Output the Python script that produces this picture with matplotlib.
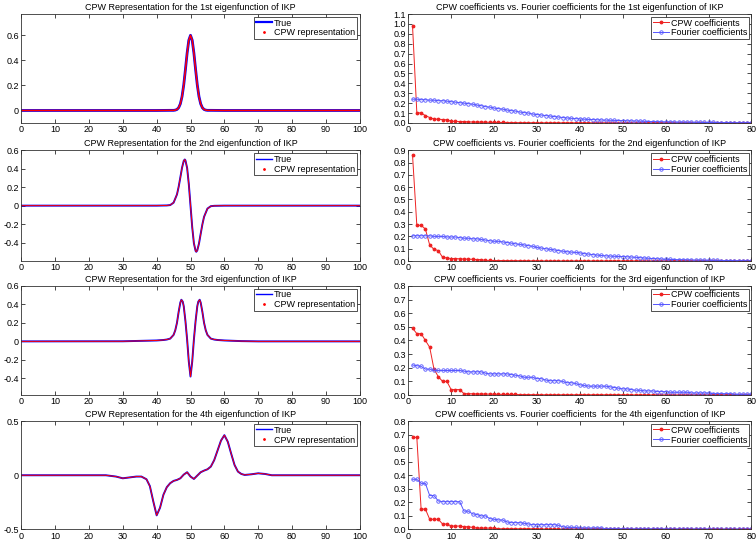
import matplotlib
matplotlib.use('Agg')
import matplotlib.pyplot as plt
from matplotlib.lines import Line2D

plt.rcParams['font.family'] = ['Liberation Sans', 'DejaVu Sans']
plt.rcParams['font.size'] = 6.5

# ---- left column: eigenfunctions ----
eig1_x = [0, 40, 44, 45, 45.5, 46, 46.5, 47, 47.5, 48, 48.5, 49, 49.5, 50,
          50.5, 51, 51.5, 52, 52.5, 53, 53.5, 54, 54.5, 55, 56, 60, 100]
eig1_y = [0, 0, 0.001, 0.001, 0.003, 0.008, 0.022, 0.053, 0.111, 0.204, 0.327, 0.458, 0.561, 0.6,
          0.561, 0.458, 0.327, 0.204, 0.111, 0.053, 0.022, 0.008, 0.003, 0.001, 0.001, 0, 0]

eig2_x = [0, 40, 43, 44, 45, 46, 46.5, 47, 47.5, 48, 48.3, 48.5, 49, 49.5, 50,
          50.5, 51, 51.5, 51.7, 52, 52.5, 53, 53.5, 54, 55, 56, 57, 60, 100]
eig2_y = [0, 0, 0.002, 0.006, 0.032, 0.121, 0.204, 0.306, 0.411, 0.485, 0.5, 0.49, 0.408, 0.232, 0,
          -0.232, -0.408, -0.49, -0.5, -0.485, -0.411, -0.306, -0.204, -0.121, -0.032, -0.006, -0.002, 0, 0]

eig3_x = [0, 30, 40, 42, 43, 44, 45, 45.5, 46, 46.5, 47, 47.3, 47.7, 48, 48.5, 49, 49.5, 50,
          50.5, 51, 51.5, 52, 52.3, 52.7, 53, 53.5, 54, 54.5, 55, 56, 57, 58, 60, 65, 70, 100]
eig3_y = [0, 0.001, 0.01, 0.015, 0.02, 0.03, 0.07, 0.12, 0.2, 0.32, 0.42, 0.45, 0.43, 0.38, 0.22, 0.02, -0.22, -0.38,
          -0.22, 0.02, 0.22, 0.38, 0.43, 0.45, 0.42, 0.32, 0.2, 0.12, 0.07, 0.03, 0.02, 0.015, 0.01, 0.003, 0, 0]

eig4_x = [0, 20, 25, 28, 30, 32, 34, 35.5, 37, 38, 39, 40, 41, 42, 43, 44, 45, 46, 47, 48, 49, 50,
          51, 52, 53, 54, 55, 56, 57, 58, 59, 60, 61, 62, 63, 64, 65, 66, 68, 70, 72, 74, 80, 100]
eig4_y = [0, 0, 0, -0.012, -0.028, -0.02, -0.012, -0.012, -0.037, -0.1, -0.24, -0.37, -0.3, -0.18, -0.11,
          -0.073, -0.052, -0.043, -0.028, 0.006, 0.028, -0.012, -0.034, -0.003, 0.028, 0.043, 0.055, 0.08,
          0.14, 0.23, 0.32, 0.37, 0.31, 0.2, 0.095, 0.034, 0.012, 0.003, 0.009, 0.018, 0.012, 0, 0, 0]

# ---- right column: coefficients, index 1..80 ----
idx = list(range(1, 81))

cpw1 = [0.98, 0.105, 0.10, 0.075, 0.055, 0.04, 0.038, 0.035, 0.032, 0.018,
        0.016, 0.015, 0.014, 0.012, 0.01, 0.01, 0.009, 0.008, 0.007, 0.006,
        0.005, 0.005, 0.004, 0.004, 0.004, 0.003, 0.003, 0.003, 0.003, 0.002] + [0.002] * 20 + [0.001] * 30
four1 = [0.24, 0.24, 0.235, 0.235, 0.23, 0.23, 0.225, 0.225, 0.22, 0.215,
         0.21, 0.205, 0.2, 0.195, 0.19, 0.18, 0.175, 0.165, 0.16, 0.15,
         0.145, 0.14, 0.13, 0.125, 0.12, 0.11, 0.105, 0.1, 0.09, 0.085,
         0.08, 0.075, 0.07, 0.065, 0.06, 0.055, 0.05, 0.047, 0.044, 0.041,
         0.038, 0.036, 0.034, 0.032, 0.03, 0.029, 0.027, 0.026, 0.025, 0.024,
         0.022, 0.021, 0.02, 0.018, 0.017, 0.015, 0.014, 0.013, 0.012, 0.011,
         0.01, 0.009, 0.008, 0.008, 0.007, 0.007, 0.006, 0.006, 0.005, 0.005,
         0.005, 0.004, 0.004, 0.004, 0.004, 0.003, 0.003, 0.003, 0.003, 0.003]

cpw2 = [0.86, 0.29, 0.29, 0.26, 0.13, 0.095, 0.085, 0.03, 0.025, 0.02,
        0.02, 0.018, 0.016, 0.015, 0.014, 0.012, 0.011, 0.005, 0.005, 0.004,
        0.004, 0.004, 0.003, 0.003, 0.003, 0.003, 0.002, 0.002, 0.002, 0.002] + [0.001] * 50
four2 = [0.205, 0.205, 0.205, 0.205, 0.205, 0.2, 0.2, 0.2, 0.195, 0.195,
         0.195, 0.19, 0.185, 0.185, 0.18, 0.18, 0.175, 0.17, 0.165, 0.16,
         0.16, 0.155, 0.15, 0.145, 0.14, 0.135, 0.13, 0.125, 0.12, 0.11,
         0.105, 0.1, 0.095, 0.09, 0.085, 0.08, 0.075, 0.072, 0.07, 0.066,
         0.06, 0.056, 0.052, 0.048, 0.045, 0.042, 0.04, 0.038, 0.037, 0.036,
         0.034, 0.032, 0.03, 0.027, 0.024, 0.022, 0.02, 0.018, 0.016, 0.014,
         0.013, 0.012, 0.011, 0.01, 0.009, 0.008, 0.007, 0.007, 0.006, 0.006,
         0.005, 0.005, 0.004, 0.004, 0.004, 0.003, 0.003, 0.003, 0.002, 0.002]

cpw3 = [0.49, 0.45, 0.45, 0.40, 0.35, 0.19, 0.135, 0.10, 0.10, 0.04,
        0.04, 0.04, 0.01, 0.01, 0.009, 0.008, 0.008, 0.007, 0.007, 0.006,
        0.005, 0.005, 0.004, 0.004, 0.004, 0.003, 0.003, 0.003, 0.003, 0.002] + [0.002] * 20 + [0.001] * 30
four3 = [0.22, 0.215, 0.21, 0.19, 0.19, 0.18, 0.18, 0.18, 0.18, 0.18,
         0.18, 0.18, 0.175, 0.17, 0.17, 0.17, 0.17, 0.16, 0.155, 0.155,
         0.155, 0.155, 0.155, 0.15, 0.145, 0.14, 0.13, 0.13, 0.13, 0.12,
         0.12, 0.11, 0.105, 0.105, 0.105, 0.1, 0.09, 0.09, 0.085, 0.075,
         0.07, 0.065, 0.065, 0.065, 0.065, 0.065, 0.06, 0.055, 0.05, 0.045,
         0.045, 0.04, 0.035, 0.035, 0.03, 0.03, 0.03, 0.025, 0.025, 0.025,
         0.02, 0.02, 0.02, 0.02, 0.02, 0.015, 0.015, 0.015, 0.015, 0.015,
         0.01, 0.01, 0.01, 0.01, 0.01, 0.005, 0.005, 0.005, 0.005, 0.005]

cpw4 = [0.68, 0.68, 0.15, 0.15, 0.075, 0.075, 0.075, 0.04, 0.04, 0.025,
        0.025, 0.025, 0.02, 0.02, 0.015, 0.01, 0.01, 0.01, 0.01, 0.01,
        0.005, 0.005, 0.005, 0.005, 0.005, 0.005, 0.005, 0.005, 0.005, 0.005] + [0.003] * 20 + [0.001] * 30
four4 = [0.37, 0.37, 0.34, 0.34, 0.25, 0.25, 0.21, 0.205, 0.205, 0.205,
         0.205, 0.205, 0.135, 0.135, 0.115, 0.11, 0.1, 0.1, 0.08, 0.075,
         0.07, 0.07, 0.055, 0.05, 0.05, 0.05, 0.045, 0.04, 0.035, 0.035,
         0.035, 0.035, 0.035, 0.035, 0.03, 0.02, 0.015, 0.015, 0.015, 0.01,
         0.01, 0.01, 0.01, 0.01, 0.01, 0.005, 0.005, 0.005, 0.005, 0.005] + [0.004] * 10 + [0.003] * 10 + [0.002] * 10

ordinals = ['1st', '2nd', '3rd', '4th']
left_x = [eig1_x, eig2_x, eig3_x, eig4_x]
left_y = [eig1_y, eig2_y, eig3_y, eig4_y]
cpw_all = [cpw1, cpw2, cpw3, cpw4]
four_all = [four1, four2, four3, four4]

left_ylim = [(-0.1, 0.77), (-0.6, 0.6), (-0.58, 0.6), (-0.5, 0.5)]
left_yticks = [[0, 0.2, 0.4, 0.6], [-0.4, -0.2, 0, 0.2, 0.4, 0.6],
               [-0.4, -0.2, 0, 0.2, 0.4, 0.6], [-0.5, 0, 0.5]]
left_lw = [1.6, 1.0, 1.0, 1.0]
right_top = [1.1, 0.9, 0.8, 0.8]

# the 1st right title has one space before "for", the others two
right_titles = ['CPW coefficients vs. Fourier coefficients for the 1st eigenfunction of IKP',
                'CPW coefficients vs. Fourier coefficients  for the 2nd eigenfunction of IKP',
                'CPW coefficients vs. Fourier coefficients  for the 3rd eigenfunction of IKP',
                'CPW coefficients vs. Fourier coefficients  for the 4th eigenfunction of IKP']

# axes boxes in figure fractions
row_y = [0.7735, 0.5193, 0.2725, 0.0250]
row_h = [0.2007, 0.204, 0.2010, 0.1995]


def style_axes(ax):
    ax.tick_params(direction='in', top=True, right=True, length=3, width=0.5, pad=1.5, labelsize=6.5)
    for s in ax.spines.values():
        s.set_linewidth(0.6)
        s.set_color('#333333')


def boxed_legend(ax, *args):
    leg = ax.legend(*args, loc='upper right', fontsize=6.5, fancybox=False, framealpha=1,
                    borderpad=0.2, handlelength=1.8, handletextpad=0.2, labelspacing=0.1,
                    borderaxespad=0.3)
    leg.get_frame().set_edgecolor('#333333')
    leg.get_frame().set_linewidth(0.6)


fig = plt.figure(figsize=(7.56, 5.43), dpi=100)

for i in range(4):
    # left: true eigenfunction vs CPW representation
    ax = fig.add_axes([0.028, row_y[i], 0.448, row_h[i]])
    ax.plot(left_x[i], left_y[i], color='#0000ff', lw=left_lw[i] + 0.4)
    ax.plot(left_x[i], left_y[i], color='#ff0000', lw=left_lw[i] * 0.7)
    ax.set_xlim(0, 100)
    ax.set_ylim(*left_ylim[i])
    ax.set_xticks(range(0, 101, 10))
    ax.set_yticks(left_yticks[i])
    ax.set_yticklabels(['%g' % v for v in left_yticks[i]])
    ax.set_title('CPW Representation for the %s eigenfunction of IKP' % ordinals[i], fontsize=6.5, pad=3)
    style_axes(ax)
    handles = [Line2D([], [], color='#0000ff', lw=left_lw[i]),
               Line2D([], [], color='#ff0000', marker='.', markersize=2, ls='none')]
    boxed_legend(ax, handles, ['True', 'CPW representation'])

    # right: coefficient decay
    ax = fig.add_axes([0.540, row_y[i], 0.454, row_h[i]])
    ax.plot(idx, cpw_all[i], color='#ee2222', lw=0.7, marker='.', markersize=3.5, label='CPW coefficients')
    ax.plot(idx, four_all[i], color='#5555ff', lw=0.7, marker='o', markersize=2.5,
            markerfacecolor='none', markeredgewidth=0.6, label='Fourier coefficients')
    ax.set_xlim(0, 80)
    ax.set_ylim(0, right_top[i])
    ax.set_xticks(range(0, 81, 10))
    ticks = [k / 10 for k in range(int(round(right_top[i] * 10)) + 1)]
    ax.set_yticks(ticks)
    ax.set_yticklabels(['%.1f' % v for v in ticks])
    ax.set_title(right_titles[i], fontsize=6.5, pad=3)
    style_axes(ax)
    boxed_legend(ax)

fig.savefig('out.png', dpi=100)
